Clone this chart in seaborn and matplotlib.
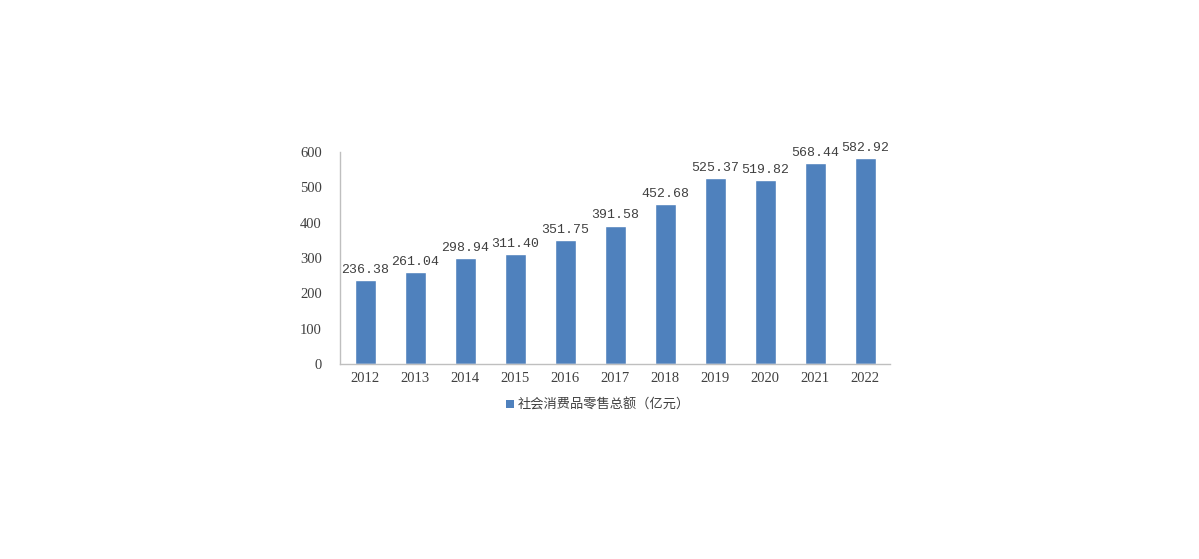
import matplotlib
matplotlib.use('Agg')
import matplotlib.pyplot as plt
import seaborn as sns
import pandas as pd
from matplotlib.patches import Patch

# data
years = ['2012', '2013', '2014', '2015', '2016', '2017', '2018', '2019', '2020', '2021', '2022']
sales = [236.38, 261.04, 298.94, 311.40, 351.75, 391.58, 452.68, 525.37, 519.82, 568.44, 582.92]
series_name = '社会消费品零售总额（亿元）'

df = pd.DataFrame({'year': years, 'sales': sales})

sns.set_style('white')
plt.rcParams['font.family'] = ['Liberation Serif', 'Noto Sans CJK SC', 'DejaVu Sans']

bar_color = '#4F81BD'
text_color = '#404040'

fig = plt.figure(figsize=(11.99, 5.59), dpi=100)
ax = fig.add_axes([0.2836, 0.3488, 0.4587, 0.3793])

sns.barplot(data=df, x='year', y='sales', color=bar_color, width=0.42,
            saturation=1, ax=ax)

for i, v in enumerate(sales):
    ax.annotate(f'{v:.2f}', (i, v), xytext=(0, 3), textcoords='offset points',
                ha='center', va='bottom', fontsize=9.5, color=text_color,
                family=['Liberation Mono', 'DejaVu Sans Mono'])

ax.set_ylim(0, 600)
ax.set_yticks(range(0, 601, 100))
ax.set_xlim(-0.5, len(years) - 0.5)
ax.set_xlabel('')
ax.set_ylabel('')
ax.tick_params(axis='both', length=0, labelsize=10.5, colors=text_color)
ax.tick_params(axis='y', pad=13)
ax.tick_params(axis='x', pad=6)

for side in ['top', 'right']:
    ax.spines[side].set_visible(False)
for side in ['left', 'bottom']:
    ax.spines[side].set_color('#bfbfbf')
    ax.spines[side].set_linewidth(1)

handle = Patch(facecolor=bar_color, edgecolor='none')
leg = fig.legend([handle], [series_name], loc='center', bbox_to_anchor=(0.499, 0.275),
                 frameon=False, handlelength=0.6, handleheight=0.6, handletextpad=0.3,
                 prop={'family': ['Noto Sans CJK SC', 'DejaVu Sans'], 'size': 9.5})
for t in leg.get_texts():
    t.set_color(text_color)

fig.savefig('out.png', dpi=100, facecolor='white')
